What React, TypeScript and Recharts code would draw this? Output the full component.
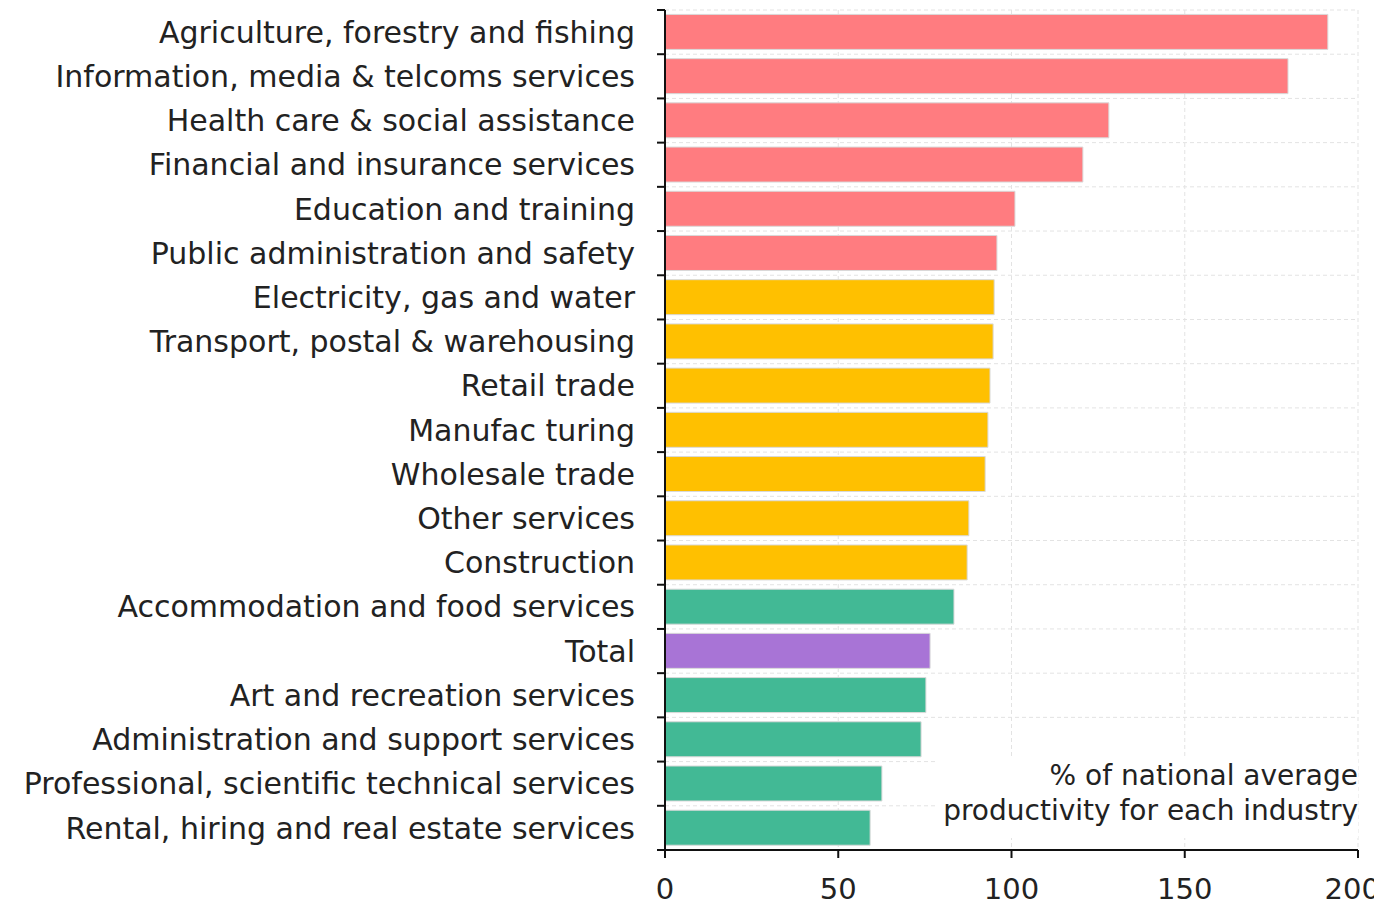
import React from "react";
import { BarChart, Bar, XAxis, YAxis, CartesianGrid, Cell } from "recharts";

const industries = [
  "Agriculture, forestry and fishing",
  "Information, media & telcoms services",
  "Health care & social assistance",
  "Financial and insurance services",
  "Education and training",
  "Public administration and safety",
  "Electricity, gas and water",
  "Transport, postal & warehousing",
  "Retail trade",
  "Manufac turing",
  "Wholesale trade",
  "Other services",
  "Construction",
  "Accommodation and food services",
  "Total",
  "Art and recreation services",
  "Administration and support services",
  "Professional, scientific technical services",
  "Rental, hiring and real estate services",
];

const productivity = [191.3, 179.8, 128.1, 120.6, 101, 95.8, 95, 94.7, 93.8, 93.2, 92.4, 87.7, 87.2, 83.4, 76.5, 75.3, 73.9, 62.6, 59.2];

const groups = ["high", "high", "high", "high", "high", "high", "mid", "mid", "mid", "mid", "mid", "mid", "mid", "low", "total", "low", "low", "low", "low"];

const groupColors: Record<string, string> = {
  high: "#FF7C80",
  mid: "#FFC000",
  low: "#42B995",
  total: "#A874D6",
};

const xTicks = [0, 50, 100, 150, 200];
const boundaryTicks = Array.from({ length: industries.length + 1 }, (_, i) => i);

const data = industries.map((name, i) => ({ name, value: productivity[i], group: groups[i], slot: i + 0.5 }));

const FONT = "'DejaVu Sans', sans-serif";

export default function App() {
  return (
    <div style={{ position: "relative", width: 1366, height: 897, fontFamily: FONT }}>
      <BarChart
        width={1366}
        height={897}
        data={data}
        layout="vertical"
        margin={{ top: 2, right: 16, bottom: 0, left: 0 }}
        barCategoryGap="10%"
      >
        <CartesianGrid
          yAxisId="axis"
          stroke="#e3e3e3"
          strokeDasharray="4 3"
          vertical={true}
          horizontal={true}
        />
        <YAxis
          yAxisId="axis"
          type="number"
          dataKey="slot"
          domain={[0, industries.length]}
          ticks={boundaryTicks}
          interval={0}
          reversed
          width={1}
          tickFormatter={() => ""}
          tickSize={8}
          axisLine={{ stroke: "#111", strokeWidth: 2 }}
          tickLine={{ stroke: "#111", strokeWidth: 2 }}
        />
        <YAxis
          yAxisId="labels"
          type="category"
          dataKey="name"
          width={656}
          axisLine={false}
          tickLine={false}
          tickSize={0}
          tickMargin={29}
          interval={0}
          tick={{ fill: "#222", fontSize: 30, fontFamily: FONT }}
        />
        <XAxis
          type="number"
          domain={[0, 200]}
          ticks={xTicks}
          height={55}
          tickSize={8}
          tickMargin={20}
          axisLine={{ stroke: "#111", strokeWidth: 2 }}
          tickLine={{ stroke: "#111", strokeWidth: 2 }}
          tick={{ fill: "#222", fontSize: 29, fontFamily: FONT }}
        />
        <Bar dataKey="value" yAxisId="labels" isAnimationActive={false} stroke="#d9d9d9" strokeWidth={1}>
          {data.map((d, i) => (
            <Cell key={i} fill={groupColors[d.group]} />
          ))}
        </Bar>
      </BarChart>
      <div
        style={{
          position: "absolute",
          left: 930,
          top: 750,
          width: 420,
          height: 80,
          background: "#fff",
          textAlign: "right",
          fontSize: 28,
          lineHeight: "35px",
          color: "#222",
          paddingTop: 0,
          whiteSpace: "nowrap",
        }}
      >
        % of national average
        <br />
        productivity for each industry
      </div>
    </div>
  );
}
